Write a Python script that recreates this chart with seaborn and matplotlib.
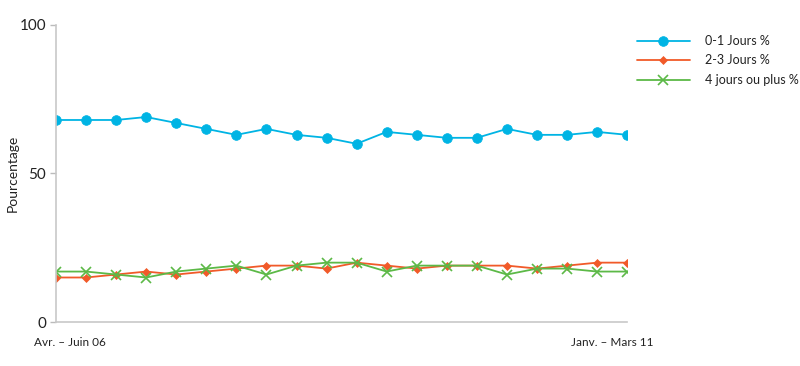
import matplotlib
matplotlib.use("Agg")
import matplotlib.pyplot as plt
import matplotlib.transforms as mtransforms
import seaborn as sns
import pandas as pd
import numpy as np

periods = list(range(20))
x_labels = ["Avr. – Juin 06", "Janv. – Mars 11"]
series_names = ["0-1 Jours %", "2-3 Jours %", "4 jours ou plus %"]
jours_0_1 = [68, 68, 68, 69, 67, 65, 63, 65, 63, 62, 60, 64, 63, 62, 62, 65, 63, 63, 64, 63]
jours_2_3 = [15, 15, 16, 17, 16, 17, 18, 19, 19, 18, 20, 19, 18, 19, 19, 19, 18, 19, 20, 20]
jours_4_plus = [17, 17, 16, 15, 17, 18, 19, 16, 19, 20, 20, 17, 19, 19, 19, 16, 18, 18, 17, 17]

sns.set_theme(style="white")
plt.rcParams['font.family'] = ['Lato', 'DejaVu Sans']

df = pd.DataFrame({
    "period": periods * 3,
    "value": jours_0_1 + jours_2_3 + jours_4_plus,
    "serie": [series_names[0]] * 20 + [series_names[1]] * 20 + [series_names[2]] * 20,
})

colors = ["#00b4e4", "#f15a29", "#5cb947"]
markers = ["o", "D", "x"]
msizes = [7, 4.5, 6.5]

fig = plt.figure(figsize=(8, 3.66), dpi=100)
ax = fig.add_axes([0.07, 0.12, 0.714, 0.812])

for name, c, m, ms in zip(series_names, colors, markers, msizes):
    sub = df[df["serie"] == name]
    sns.lineplot(data=sub, x="period", y="value", ax=ax, color=c, marker=m,
                 markersize=ms, linewidth=1.3, label=name,
                 markeredgecolor=c, markeredgewidth=1.2 if m == "x" else 0.5)

ax.set_xlim(0, 19)
ax.set_ylim(0, 100)
ax.set_yticks([0, 50, 100])
ax.set_yticklabels(["0", "50", "100"], fontsize=11, color="#222222")
ax.set_xticks([0, 19])
ax.set_xticklabels(x_labels, fontsize=8.5, color="#222222")
ax.tick_params(axis="x", length=0, pad=11)
ax.tick_params(axis="y", length=4, color="#bbbbbb", width=1, left=True, pad=3)
offsets = [14, -15]
for lab, dx in zip(ax.get_xticklabels(), offsets):
    lab.set_transform(lab.get_transform() + mtransforms.ScaledTranslation(dx / 100, 0, fig.dpi_scale_trans))
ax.set_xlabel("")
ax.set_ylabel("Pourcentage", fontsize=10, color="#222222")
ax.yaxis.set_label_coords(-0.066, 0.5)

for s in ["top", "right"]:
    ax.spines[s].set_visible(False)
for s in ["left", "bottom"]:
    ax.spines[s].set_color("#c8c8c8")
    ax.spines[s].set_linewidth(1.2)

leg = ax.legend(loc="upper left", bbox_to_anchor=(1.0, 1.0), frameon=False,
                fontsize=9, handlelength=4.2, labelspacing=0.6, handletextpad=1.2,
                borderaxespad=0.4)
for t in leg.get_texts():
    t.set_color("#222222")

fig.savefig("out.png", dpi=100)
